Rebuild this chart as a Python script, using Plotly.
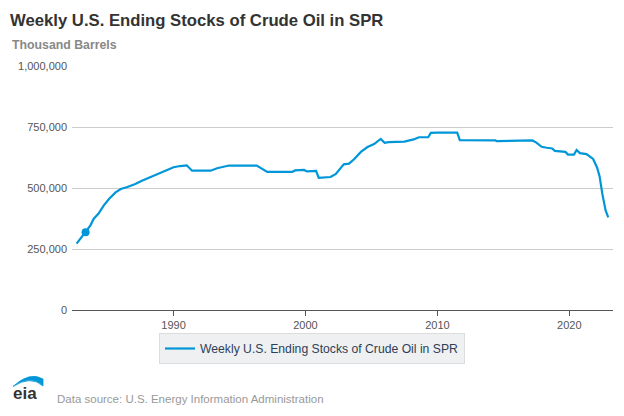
import plotly.graph_objects as go
from datetime import datetime, timedelta

# Decimal years and stock levels (thousand barrels)
years = [1982.65, 1983.0, 1983.33, 1983.7, 1983.95, 1984.3, 1984.7, 1985.1, 1985.6, 1986.0,
         1986.5, 1987.1, 1987.6, 1988.2, 1988.6, 1989.0, 1989.5, 1990.0, 1990.5, 1991.0,
         1991.4, 1992.8, 1993.3, 1994.2, 1996.3, 1997.1, 1999.0, 1999.2, 1999.9, 2000.1,
         2000.8, 2001.0, 2001.9, 2002.3, 2002.9, 2003.3, 2003.7, 2004.2, 2004.7, 2005.2,
         2005.7, 2006.0, 2006.3, 2007.5, 2008.2, 2008.6, 2009.3, 2009.5, 2010.0, 2011.5,
         2011.7, 2013.2, 2014.4, 2014.5, 2015.3, 2015.4, 2017.2, 2017.5, 2017.9, 2018.3,
         2018.7, 2018.9, 2019.7, 2019.9, 2020.35, 2020.55, 2020.8, 2021.3, 2021.55, 2021.8,
         2022.1, 2022.3, 2022.5, 2022.75, 2022.95]
stocks = [272000, 296000, 319000, 347000, 374000, 394000, 428000, 455000, 482000, 496000,
          504000, 516000, 530000, 544000, 553000, 563000, 575000, 585000, 590000, 593000,
          571000, 571000, 581000, 592000, 592000, 566000, 566000, 572000, 574000, 568000,
          570000, 542000, 545000, 558000, 597000, 600000, 619000, 648000, 668000, 680000,
          701000, 685000, 688000, 690000, 699000, 708000, 708000, 726000, 727000, 727000,
          696000, 696000, 695000, 692000, 692000, 695000, 695000, 686000, 669000, 665000,
          662000, 652000, 648000, 637000, 637000, 656000, 643000, 639000, 627000, 619000,
          584000, 546000, 476000, 408000, 380000]
marker_year = [1983.33]
marker_value = [319000]

y_ticks = [0, 250000, 500000, 750000, 1000000]
y_labels = ["0", "250,000", "500,000", "750,000", "1,000,000"]
x_tick_years = [1990, 2000, 2010, 2020]

series_name = "Weekly U.S. Ending Stocks of Crude Oil in SPR"


def to_date(y):
    yr = int(y)
    start = datetime(yr, 1, 1)
    end = datetime(yr + 1, 1, 1)
    return start + timedelta(seconds=(end - start).total_seconds() * (y - yr))


dates = [to_date(y) for y in years]
mdates = [to_date(y) for y in marker_year]
blue = "#0096d7"

L, R, T, B = 72, 11, 66, 106
W, H = 624, 416
PW, PH = W - L - R, H - T - B


def px(x):
    return (x - L) / PW


def py(y):
    return (H - B - y) / PH


fig = go.Figure()
fig.add_trace(go.Scatter(x=dates, y=stocks, mode="lines", name=series_name,
                         line=dict(color=blue, width=2.2), hoverinfo="skip"))
fig.add_trace(go.Scatter(x=mdates, y=marker_value, mode="markers", showlegend=False,
                         marker=dict(color=blue, size=8), hoverinfo="skip"))

fig.update_layout(
    width=W, height=H,
    margin=dict(l=L, r=R, t=T, b=B),
    paper_bgcolor="white", plot_bgcolor="white",
    font=dict(family="Liberation Sans, Arial, sans-serif", color="#555555"),
    showlegend=True,
    legend=dict(orientation="h", x=px(312), xanchor="center", y=py(333), yanchor="top",
                bgcolor="#eef0f2", bordercolor="#dcdcdc", borderwidth=1,
                itemwidth=30, tracegroupgap=0,
                font=dict(size=12.2, color="#2f4056")),
    xaxis=dict(type="date",
               range=[to_date(1982.3), to_date(2023.31)],
               tickvals=[datetime(y, 1, 1) for y in x_tick_years],
               ticktext=[str(y) for y in x_tick_years],
               showgrid=False, showline=True, linecolor="#555555", linewidth=1,
               ticks="outside", ticklen=5, tickcolor="#555555",
               tickfont=dict(size=11, color="#555555"), zeroline=False),
    yaxis=dict(range=[0, 1000000], tickvals=y_ticks, ticktext=y_labels,
               showgrid=True, gridcolor="#cccccc", gridwidth=1, zeroline=False,
               showline=False, ticks="", ticklabelstandoff=4,
               tickfont=dict(size=11, color="#555555")),
)

fig.add_annotation(text="<b>Weekly U.S. Ending Stocks of Crude Oil in SPR</b>",
                   xref="paper", yref="paper", x=px(8), y=py(20.5),
                   xanchor="left", yanchor="middle", showarrow=False,
                   font=dict(size=16.7, color="#333333"))
fig.add_annotation(text="<b>Thousand Barrels</b>",
                   xref="paper", yref="paper", x=px(10), y=py(45),
                   xanchor="left", yanchor="middle", showarrow=False,
                   font=dict(size=12.3, color="#888888"))
fig.add_annotation(text="Data source: U.S. Energy Information Administration",
                   xref="paper", yref="paper", x=px(55), y=py(399),
                   xanchor="left", yanchor="middle", showarrow=False,
                   font=dict(size=11.5, color="#999999"))
fig.add_annotation(text="<b>eia</b>",
                   xref="paper", yref="paper", x=px(11), y=py(393),
                   xanchor="left", yanchor="middle", showarrow=False,
                   font=dict(size=17, color="#333333"))

arc = ("M {:.4f},{:.4f} Q {:.4f},{:.4f} {:.4f},{:.4f} "
       "L {:.4f},{:.4f} Q {:.4f},{:.4f} {:.4f},{:.4f} Z").format(
    px(13), py(386.5), px(30), py(371), px(43), py(379),
    px(43), py(386), px(31), py(375), px(13), py(386.5))
fig.add_shape(type="path", path=arc, xref="paper", yref="paper",
              fillcolor=blue, line=dict(color=blue, width=0.8))

fig.write_html("out.html", config={"displayModeBar": False},
               post_script="document.body.style.margin='0px';")
